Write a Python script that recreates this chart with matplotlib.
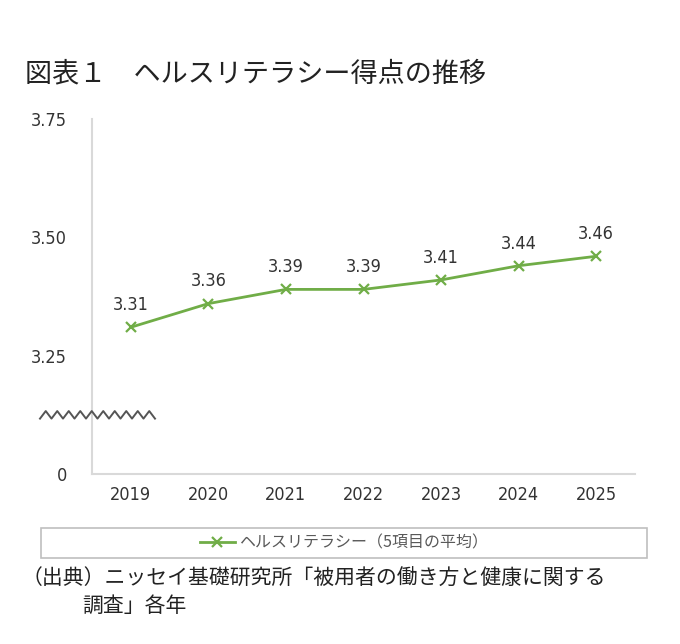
import numpy as np
import matplotlib
matplotlib.use("Agg")
import matplotlib.pyplot as plt
import matplotlib.transforms as mtrans
from matplotlib import font_manager
from matplotlib.patches import Rectangle

##############
### Data   ###
##############

years = ["2019", "2020", "2021", "2022", "2023", "2024", "2025"]
scores = [3.31, 3.36, 3.39, 3.39, 3.41, 3.44, 3.46]
score_labels = ["3.31", "3.36", "3.39", "3.39", "3.41", "3.44", "3.46"]
y_ticks = [3.00, 3.25, 3.50, 3.75]
y_tick_labels = ["0", "3.25", "3.50", "3.75"]

title = "図表１　ヘルスリテラシー得点の推移"
legend_label = "ヘルスリテラシー（5項目の平均）"
source_line1 = "（出典）ニッセイ基礎研究所「被用者の働き方と健康に関する"
source_line2 = "調査」各年"

######################
### Fonts & colors ###
######################

installed = {f.name for f in font_manager.fontManager.ttflist}
cjk_font = ["Noto Sans CJK JP", "DejaVu Sans"]
if "Liberation Sans Narrow" in installed:
    num_font = {"family": "Liberation Sans Narrow", "size": 14}
else:
    num_font = {"family": "DejaVu Sans", "size": 13, "stretch": "condensed"}

plt.rcParams["font.family"] = cjk_font

line_color = "#70AD47"
text_color = "#333333"
axis_color = "#d9d9d9"

W, H = 680, 644
fig = plt.figure(figsize=(W / 100, H / 100), dpi=100)
fig.patch.set_facecolor("white")

# axes placed in pixel terms of the reference
ax_left, ax_right, ax_top, ax_bottom = 92, 635, 119, 474
ax = fig.add_axes([ax_left / W, 1 - ax_bottom / H,
                   (ax_right - ax_left) / W, (ax_bottom - ax_top) / H])

x = np.arange(len(years))
ax.plot(x, scores, color=line_color, lw=2, marker="x", ms=7, mew=1.6,
        label=legend_label, zorder=3)

for xi, yi, lab in zip(x, scores, score_labels):
    ax.annotate(lab, (xi, yi), xytext=(0, 16), textcoords="offset points",
                ha="center", va="center", color=text_color, **num_font)

ax.set_xlim(-0.5, len(years) - 0.5)
ax.set_ylim(3.0, 3.75)
ax.set_xticks(x)
ax.set_xticklabels(years)
ax.set_yticks(y_ticks)
ax.set_yticklabels(y_tick_labels)
for lab in ax.get_xticklabels() + ax.get_yticklabels():
    lab.set_fontfamily(num_font["family"])
    lab.set_fontsize(num_font["size"])
    if "stretch" in num_font:
        lab.set_fontstretch(num_font["stretch"])
    lab.set_color(text_color)
ax.tick_params(axis="both", length=0)
ax.tick_params(axis="y", pad=18)
ax.tick_params(axis="x", pad=9)

for side in ["top", "right"]:
    ax.spines[side].set_visible(False)
for side in ["left", "bottom"]:
    ax.spines[side].set_color(axis_color)
    ax.spines[side].set_linewidth(1.5)

# axis break zigzag
trans = mtrans.blended_transform_factory(ax.transAxes, ax.transData)
n_teeth = 20
zx = np.linspace((40 - ax_left) / (ax_right - ax_left),
                 (155 - ax_left) / (ax_right - ax_left), n_teeth + 1)
zy = 3.125 + np.where(np.arange(n_teeth + 1) % 2 == 0, -0.008, 0.008)
ax.plot(zx, zy, color="#555555", lw=1.4, transform=trans, clip_on=False, zorder=4)

# title
fig.text(25 / W, 1 - 74 / H, title, fontsize=19.5, color="#222222",
         ha="left", va="center")

# legend with frame
fig.patches.append(Rectangle((41 / W, 1 - 558 / H), (647 - 41) / W, 30 / H,
                             transform=fig.transFigure, fill=False,
                             edgecolor="#bfbfbf", lw=1.2))
leg = ax.legend(loc="center", bbox_to_anchor=(344 / W, 1 - 543 / H),
                bbox_transform=fig.transFigure, frameon=False,
                fontsize=11.5, handlelength=2.2, handletextpad=0.3)
for t in leg.get_texts():
    t.set_color("#595959")

# source
fig.text(22 / W, 1 - 579 / H, source_line1, fontsize=15, color="#222222",
         ha="left", va="center")
fig.text(82 / W, 1 - 606 / H, source_line2, fontsize=15, color="#222222",
         ha="left", va="center")

fig.savefig("out.png", dpi=100)
